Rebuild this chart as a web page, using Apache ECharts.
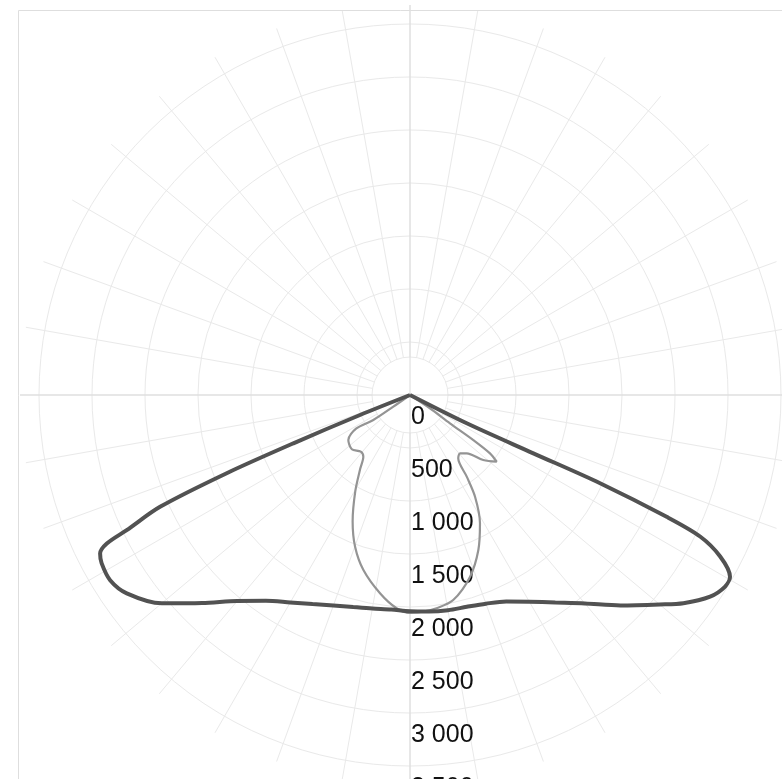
<!DOCTYPE html>
<html><head><meta charset="utf-8">
<script src="https://cdn.jsdelivr.net/npm/echarts@6/dist/echarts.min.js"></script>
<style>html,body{margin:0;padding:0;background:#fff}#c{width:782px;height:779px}</style>
</head><body><div id="c"></div>
<script>
// Radius ticks (cd)
const radiusTicks = [0, 500, 1000, 1500, 2000, 2500, 3000, 3500];
const radiusMax = 3500;
const radiusStep = 500;

// Plane C0-C180 (thick curve): gamma angle from nadir (positive = left side), intensity
const planeAAngles = [-64, -63.5, -64.7, -65.1, -64.6, -64.0, -62.5, -60.4, -58.7, -56.1, -52.7, -50, -45, -40, -35, -30, -25, -20, -15, -10, -5, 0,
  5, 10, 15, 20, 25, 30, 35, 40, 45, 50, 55, 58.3, 61.4, 62.9, 63.9, 64.5, 65.9, 66.9, 67.5, 68.2, 68.5];
const planeAValues = [0, 598, 1287, 1977, 2680, 3045, 3299, 3472, 3479, 3411, 3242, 3075, 2808, 2567, 2390, 2252, 2149, 2095, 2069, 2062, 2050, 2040,
  2031, 2045, 2071, 2113, 2176, 2260, 2370, 2537, 2775, 3057, 3262, 3325, 3314, 3284, 3185, 2961, 2583, 1880, 1191, 508, 0];

// Plane C90-C270 (thin curve)
const planeBAngles = [-57, -56.4, -54.7, -54.6, -53.9, -52.4, -48.4, -44.2, -40.6, -37.3, -34.8, -32.6, -28.6, -23.8, -18.3, -11.9, -7.1, -3.5, 0,
  3.6, 8.6, 14.9, 19.9, 24.4, 29.5, 34, 37.1, 41, 47, 53.9, 58, 55.7, 55, 55];
const planeBValues = [0, 226, 462, 733, 934, 1032, 924, 767, 725, 751, 938, 1139, 1379, 1598, 1805, 1977, 2028, 2048, 2055,
  2016, 1892, 1709, 1522, 1310, 1050, 840, 730, 708, 750, 720, 600, 419, 192, 0];

const fmt = v => String(v).replace(/\B(?=(\d{3})+(?!\d))/g, ' ');
const pair = (vals, angs) => vals.map((v, i) => [v, (angs[i] + 360) % 360]);

const CENTER = [410, 395];
const chart = echarts.init(document.getElementById('c'), null, {renderer: 'canvas'});
chart.setOption({
  animation: false,
  backgroundColor: '#fff',
  graphic: [{
    type: 'rect', shape: {x: 18.5, y: 10.5, width: 800, height: 800},
    style: {fill: 'none', stroke: '#dedede', lineWidth: 1}, z: -10
  }],
  polar: [
    {center: CENTER, radius: [38, 390]},
    {center: CENTER, radius: [0, 390]},
    {center: CENTER, radius: [0, 371]}
  ],
  angleAxis: [
    {polarIndex: 0, type: 'value', min: 0, max: 360, interval: 10, startAngle: 90,
      axisLine: {show: false}, axisTick: {show: false}, axisLabel: {show: false},
      splitLine: {show: true, lineStyle: {color: '#e9e9e9', width: 1}}},
    {polarIndex: 1, type: 'value', min: 0, max: 360, interval: 90, startAngle: 90,
      axisLine: {show: false}, axisTick: {show: false}, axisLabel: {show: false},
      splitLine: {show: true, lineStyle: {color: '#dadada', width: 1}}},
    {polarIndex: 2, type: 'value', min: 0, max: 360, interval: 30, startAngle: -90, clockwise: true,
      axisLine: {show: false}, axisTick: {show: false}, axisLabel: {show: false},
      splitLine: {show: false}}
  ],
  radiusAxis: [
    {polarIndex: 0, type: 'value', min: 0, max: 1, interval: 1,
      axisLine: {show: false}, axisTick: {show: false}, axisLabel: {show: false},
      splitLine: {show: true, lineStyle: {color: ['#e9e9e9', 'rgba(0,0,0,0)'], width: 1}}},
    {polarIndex: 1, type: 'value', min: 0, max: 1,
      axisLine: {show: false}, axisTick: {show: false}, axisLabel: {show: false},
      splitLine: {show: false}},
    {polarIndex: 2, type: 'value', min: 0, max: radiusMax, interval: radiusStep,
      axisLine: {show: false}, axisTick: {show: false},
      axisLabel: {show: true, formatter: v => fmt(v), fontFamily: 'Liberation Sans, Arial, sans-serif',
        fontSize: 25, color: '#111', align: 'left', verticalAlign: 'top', margin: 1, padding: [10, 0, 0, 0]},
      splitLine: {show: true, lineStyle: {color: '#e9e9e9', width: 1}}}
  ],
  series: [
    {type: 'line', coordinateSystem: 'polar', polarIndex: 2, data: pair(planeBValues, planeBAngles),
      showSymbol: false, smooth: 0.3, lineStyle: {color: '#949494', width: 2.2}, z: 3},
    {type: 'line', coordinateSystem: 'polar', polarIndex: 2, data: pair(planeAValues, planeAAngles),
      showSymbol: false, smooth: 0.3, lineStyle: {color: '#525252', width: 4}, z: 4}
  ]
});
</script></body></html>
